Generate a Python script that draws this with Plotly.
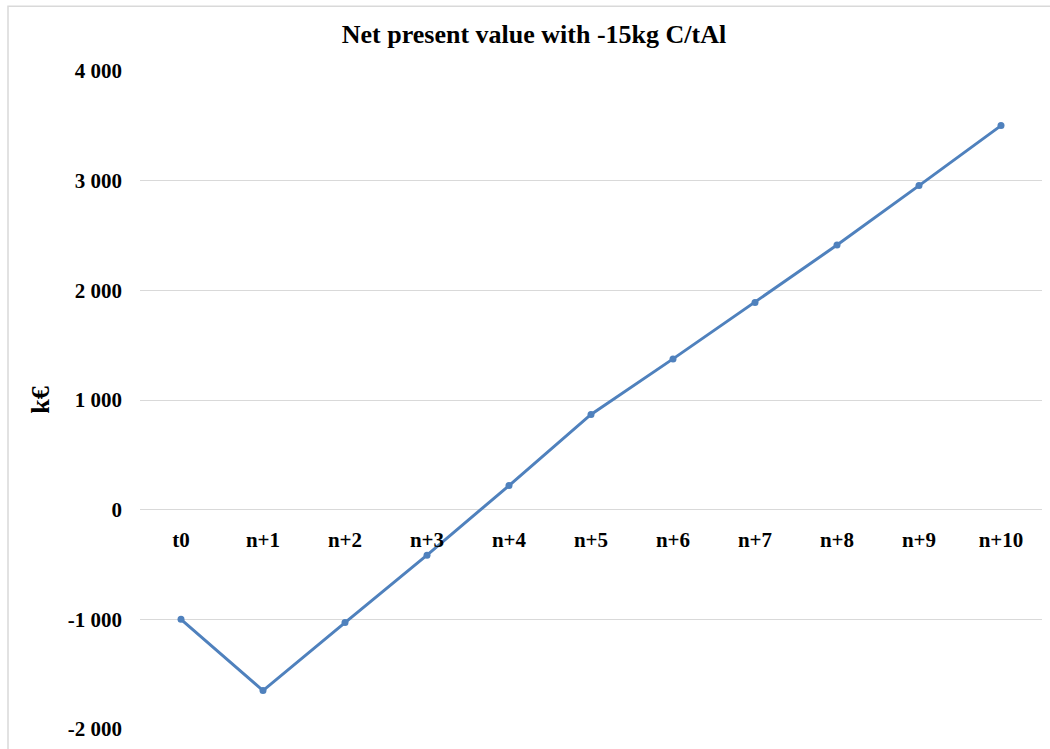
import plotly.graph_objects as go

# Net present value per period (k€)
periods = ["t0", "n+1", "n+2", "n+3", "n+4", "n+5", "n+6", "n+7", "n+8", "n+9", "n+10"]
npv_keur = [-1000, -1650, -1030, -415, 220, 868, 1375, 1890, 2413, 2955, 3502]

y_tickvals = [-2000, -1000, 0, 1000, 2000, 3000, 4000]
y_ticktext = ["-2 000", "-1 000", "0", "1 000", "2 000", "3 000", "4 000"]

title_text = "Net present value with -15kg C/tAl"
y_title = "k€"

W, H = 1050, 749
L, R, T, B = 140, 8, 71, 18
plot_w = W - L - R
plot_h = H - T - B

BLUE = "#4F81BD"
GRID = "#D9D9D9"
FONT = "Liberation Serif"

fig = go.Figure()
fig.add_trace(go.Scatter(
    x=periods,
    y=npv_keur,
    mode="lines+markers",
    line=dict(color=BLUE, width=3),
    marker=dict(color=BLUE, size=7),
    showlegend=False,
))

y_min, y_max = y_tickvals[0], y_tickvals[-1]

fig.update_layout(
    width=W,
    height=H,
    margin=dict(l=L, r=R, t=T, b=B),
    paper_bgcolor="white",
    plot_bgcolor="white",
    title=dict(
        text="<b>%s</b>" % title_text,
        x=534 / W, xanchor="center",
        y=1 - 34 / H, yanchor="middle",
        yref="container", xref="container",
        font=dict(family=FONT, size=26, color="black"),
    ),
    xaxis=dict(
        type="category",
        range=[-0.5, len(periods) - 0.5],
        anchor="free",
        position=(0 - y_min) / (y_max - y_min),
        showgrid=False,
        showline=False,
        zeroline=False,
        ticks="outside",
        ticklen=11,
        tickcolor="rgba(0,0,0,0)",
        tickfont=dict(family=FONT, size=21, color="black", weight="bold"),
    ),
    yaxis=dict(
        range=[y_min, y_max],
        tickvals=y_tickvals,
        ticktext=y_ticktext,
        showgrid=True,
        gridcolor=GRID,
        gridwidth=1,
        zeroline=True,
        zerolinecolor=GRID,
        zerolinewidth=1,
        showline=False,
        ticks="",
        ticklabelstandoff=17,
        tickfont=dict(family=FONT, size=21, color="black", weight="bold"),
        title=dict(
            text="<b>%s</b>" % y_title,
            font=dict(family=FONT, size=26, color="black"),
            standoff=10,
        ),
    ),
)

# light chart-area border (left and top edges visible)
fig.add_shape(
    type="rect",
    xref="paper", yref="paper",
    x0=(8 - L) / plot_w, x1=(W + 20 - L) / plot_w,
    y0=(H - B - (H + 20)) / plot_h, y1=(H - B - 6) / plot_h,
    line=dict(color=GRID, width=1.5),
    fillcolor="rgba(0,0,0,0)",
    layer="below",
)

fig.write_html("out.html")
